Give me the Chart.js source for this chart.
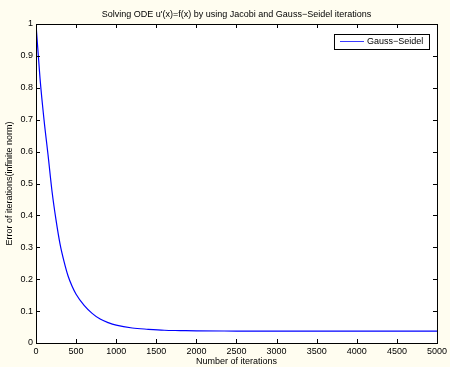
<!DOCTYPE html>
<html>
<head>
<meta charset="utf-8">
<script src="https://cdn.jsdelivr.net/npm/chart.js@4/dist/chart.umd.min.js"></script>
<style>
  html, body { margin: 0; padding: 0; background: #fffdf0; }
  canvas { display: block; }
</style>
</head>
<body>
<canvas id="odeChart" width="450" height="367"></canvas>
<script>
// Values
const chartTitle = 'Solving ODE u\'(x)=f(x) by using Jacobi and Gauss\u2212Seidel iterations';
const seriesLabel = 'Gauss\u2212Seidel';
const iterations = [0, 50, 100, 150, 200, 250, 300, 350, 400, 450, 500, 600, 700, 800, 900, 1000, 1200, 1400, 1600, 1800, 2000, 2500, 3000, 4000, 5000];
const errors = [1.0, 0.83, 0.70, 0.59, 0.475, 0.385, 0.31, 0.255, 0.21, 0.178, 0.153, 0.118, 0.093, 0.075, 0.064, 0.056, 0.047, 0.043, 0.040, 0.039, 0.038, 0.0375, 0.037, 0.037, 0.037];

const FONT = { family: 'Liberation Sans, Arial, sans-serif', size: 9 };

// background, frame, inner ticks, title and legend box (MATLAB look)
const matlabFrame = {
    id: 'matlabFrame',
    beforeDraw(chart) {
        const { ctx, chartArea: a } = chart;
        ctx.save();
        ctx.fillStyle = '#fffdf0';
        ctx.fillRect(0, 0, chart.width, chart.height);
        ctx.fillStyle = '#ffffff';
        ctx.fillRect(a.left, a.top, a.right - a.left, a.bottom - a.top);
        ctx.restore();
    },
    afterDraw(chart) {
        const { ctx, chartArea: a, scales } = chart;
        ctx.save();
        ctx.strokeStyle = '#000';
        ctx.lineWidth = 1;
        ctx.strokeRect(a.left + 0.5, a.top + 0.5, a.right - a.left, a.bottom - a.top);

        // ticks pointing into the plot
        ctx.beginPath();
        scales.x.ticks.forEach(t => {
            const px = Math.round(scales.x.getPixelForValue(t.value)) + 0.5;
            ctx.moveTo(px, a.bottom); ctx.lineTo(px, a.bottom - 4);
            ctx.moveTo(px, a.top); ctx.lineTo(px, a.top + 4);
        });
        scales.y.ticks.forEach(t => {
            const py = Math.round(scales.y.getPixelForValue(t.value)) + 0.5;
            ctx.moveTo(a.left, py); ctx.lineTo(a.left + 4, py);
            ctx.moveTo(a.right, py); ctx.lineTo(a.right - 4, py);
        });
        ctx.stroke();

        // title
        ctx.fillStyle = '#000';
        ctx.font = FONT.size + 'px ' + FONT.family;
        ctx.textAlign = 'center';
        ctx.textBaseline = 'middle';
        ctx.fillText(chartTitle, (a.left + a.right) / 2, 15);

        // legend box in the upper right corner
        const bx = a.right - 103, by = a.top + 10, bw = 95, bh = 15;
        ctx.fillStyle = '#fff';
        ctx.fillRect(bx, by, bw, bh);
        ctx.strokeStyle = '#000';
        ctx.strokeRect(bx + 0.5, by + 0.5, bw, bh);
        ctx.strokeStyle = '#3b3bff';
        ctx.lineWidth = 1;
        ctx.beginPath();
        ctx.moveTo(bx + 6, by + 7.5);
        ctx.lineTo(bx + 30, by + 7.5);
        ctx.stroke();
        ctx.fillStyle = '#000';
        ctx.textAlign = 'left';
        ctx.fillText(chart.data.datasets[0].label, bx + 33, by + 8);
        ctx.restore();
    }
};

const data = {
    datasets: [{
        label: seriesLabel,
        data: iterations.map((n, i) => ({ x: n, y: errors[i] })),
        borderColor: '#0000ff',
        borderWidth: 1.2,
        pointRadius: 0,
        fill: false,
        cubicInterpolationMode: 'monotone'
    }]
};

const config = {
    type: 'line',
    data: data,
    options: {
        responsive: false,
        animation: false,
        devicePixelRatio: 1,
        layout: { padding: { top: 24, right: 10, left: 0, bottom: 0 } },
        plugins: {
            legend: { display: false },
            title: { display: false },
            tooltip: { enabled: false }
        },
        scales: {
            x: {
                type: 'linear',
                min: 0,
                max: 5000,
                ticks: {
                    stepSize: 500, color: '#000', font: FONT, padding: 3, maxRotation: 0,
                    callback: v => String(v)
                },
                grid: { display: false, drawTicks: false },
                border: { display: false },
                title: { display: true, text: 'Number of iterations', color: '#000', font: FONT, padding: { top: 0, bottom: 0 } },
                afterFit(scale) { scale.height = 24; }
            },
            y: {
                min: 0,
                max: 1,
                ticks: {
                    stepSize: 0.1, color: '#000', font: FONT, padding: 3,
                    callback: v => String(Math.round(v * 10) / 10)
                },
                grid: { display: false, drawTicks: false },
                border: { display: false },
                title: { display: true, text: 'Error of iterations(infinite norm)', color: '#000', font: FONT, padding: { top: 4, bottom: 0 } },
                afterFit(scale) { scale.width = 36; }
            }
        }
    },
    plugins: [matlabFrame]
};

const odeChart = new Chart(document.getElementById('odeChart'), config);
</script>
</body>
</html>
